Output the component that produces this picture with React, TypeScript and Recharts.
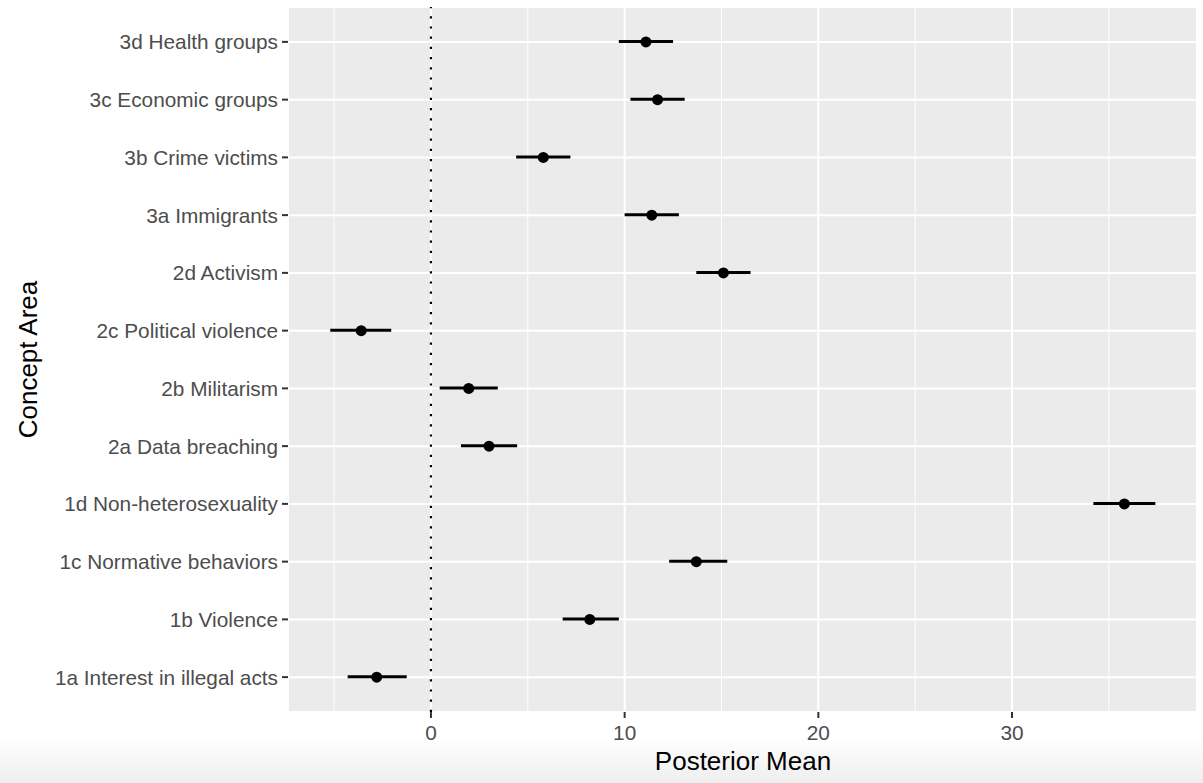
import {
    ComposedChart,
    Bar,
    Line,
    XAxis,
    YAxis,
    CartesianGrid,
    ReferenceLine,
    Label
} from 'recharts';

// concept areas, top to bottom
const AREAS = [
    '3d Health groups',
    '3c Economic groups',
    '3b Crime victims',
    '3a Immigrants',
    '2d Activism',
    '2c Political violence',
    '2b Militarism',
    '2a Data breaching',
    '1d Non-heterosexuality',
    '1c Normative behaviors',
    '1b Violence',
    '1a Interest in illegal acts',
];
const MEANS = [11.1, 11.7, 5.8, 11.4, 15.1, -3.6, 1.95, 3.0, 35.8, 13.7, 8.2, -2.8];
const LOWER = [9.7, 10.3, 4.4, 10.0, 13.7, -5.2, 0.45, 1.55, 34.2, 12.3, 6.8, -4.3];
const UPPER = [12.5, 13.1, 7.2, 12.8, 16.5, -2.05, 3.45, 4.45, 37.4, 15.3, 9.7, -1.25];

const MAJOR_TICKS = [0, 10, 20, 30];
const MINOR_TICKS = [-5, 5, 15, 25, 35];

const rows = AREAS.map((name, i) => ({
    name,
    mean: MEANS[i],
    ci: [LOWER[i], UPPER[i]],
}));

const FONT = '"Liberation Sans", Arial, Helvetica, sans-serif';

export default function App() {
    return (
        <div
            style={{
                position: 'absolute',
                left: 0,
                top: 0,
                width: 1203,
                height: 783,
                fontFamily: FONT,
                background: 'linear-gradient(to bottom, #ffffff 0px, #ffffff 737px, #eeeeee 783px)',
            }}
        >
            <ComposedChart
                width={1203}
                height={783}
                layout="vertical"
                data={rows}
                margin={{ top: 7, right: 6, bottom: 0, left: 0 }}
            >
                {/* panel + minor grid */}
                <CartesianGrid fill="#EBEBEB" stroke="#ffffff" strokeWidth={1} horizontal={false} verticalValues={MINOR_TICKS} />
                {/* major grid */}
                <CartesianGrid stroke="#ffffff" strokeWidth={2} />
                <XAxis
                    type="number"
                    domain={[-7.38, 39.55]}
                    ticks={MAJOR_TICKS}
                    allowDataOverflow
                    height={71}
                    axisLine={false}
                    tickSize={6}
                    tickMargin={7}
                    tickLine={{ stroke: '#333333', strokeWidth: 2 }}
                    tick={{ fill: '#4D4D4D', fontSize: 20.8 }}
                >
                    <Label
                        content={() => (
                            <text x={743} y={770} textAnchor="middle" fontSize={26} fill="#000000">
                                Posterior Mean
                            </text>
                        )}
                    />
                </XAxis>
                <YAxis
                    type="category"
                    dataKey="name"
                    width={288}
                    padding={{ top: 6, bottom: 6 }}
                    axisLine={false}
                    tickSize={6}
                    tickMargin={4}
                    tickLine={{ stroke: '#333333', strokeWidth: 2 }}
                    tick={{ fill: '#4D4D4D', fontSize: 20.8 }}
                    interval={0}
                >
                    <Label
                        content={() => (
                            <text
                                x={37}
                                y={359.5}
                                transform="rotate(-90 37 359.5)"
                                textAnchor="middle"
                                fontSize={26}
                                fill="#000000"
                            >
                                Concept Area
                            </text>
                        )}
                    />
                </YAxis>
                <ReferenceLine x={0} stroke="#000000" strokeWidth={2.2} strokeDasharray="2.2 8" />
                <Bar dataKey="ci" barSize={3} fill="#000000" isAnimationActive={false} />
                <Line
                    dataKey="mean"
                    stroke="none"
                    dot={{ r: 5.5, fill: '#000000', stroke: 'none' }}
                    activeDot={false}
                    isAnimationActive={false}
                />
            </ComposedChart>
        </div>
    );
}
